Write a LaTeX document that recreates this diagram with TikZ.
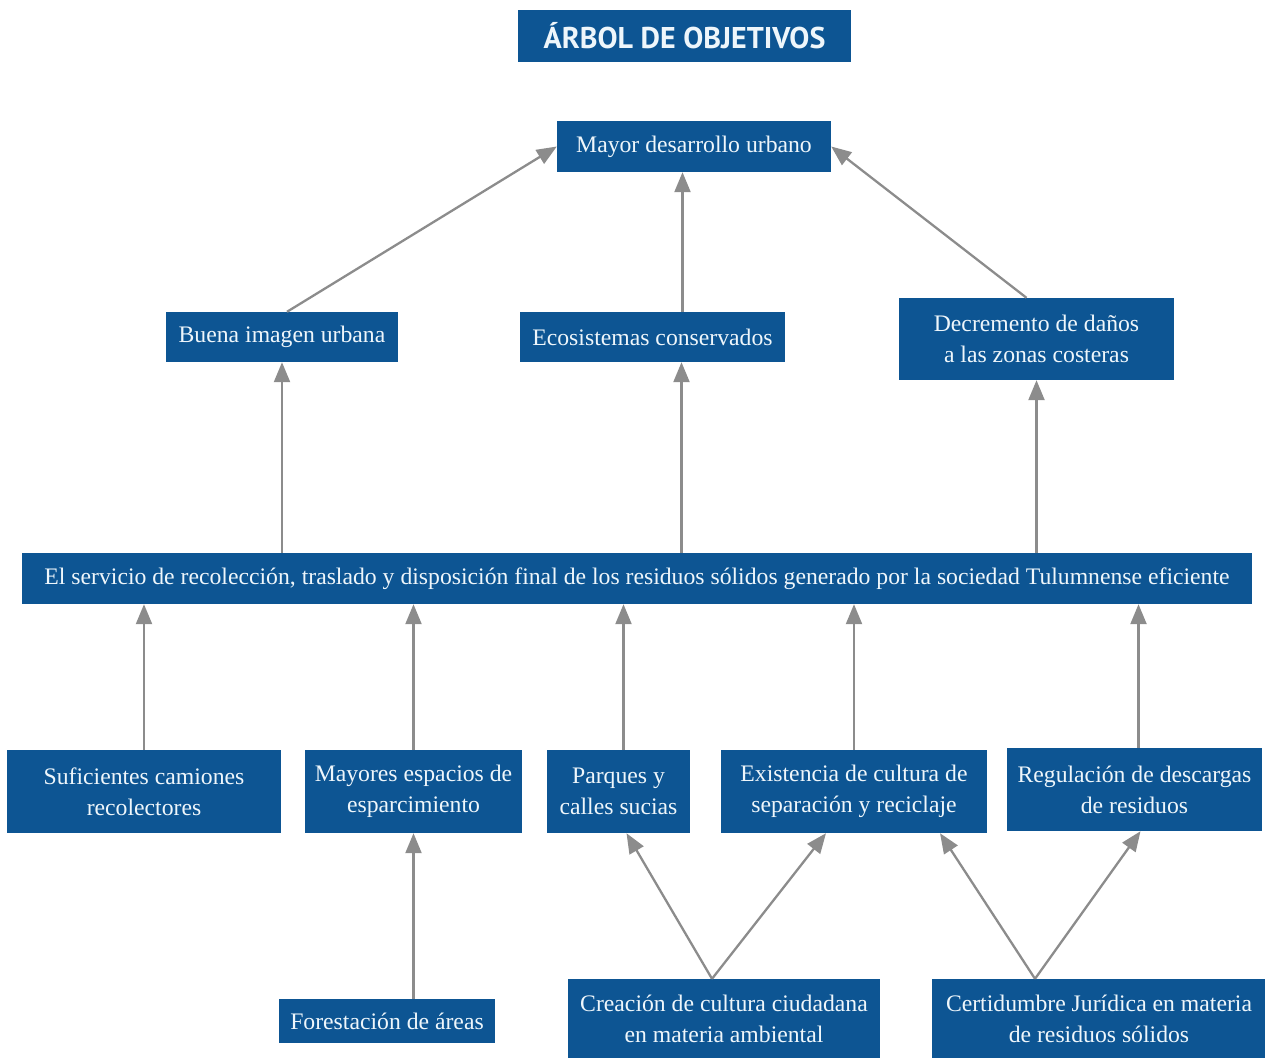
\documentclass[tikz,border=0pt]{standalone}
\usepackage{fontspec}
\setmainfont{Liberation Serif}
\newfontfamily\headfont{PT Sans}
\usetikzlibrary{arrows.meta}
\definecolor{boxblue}{HTML}{0D5593}
\definecolor{boxtext}{HTML}{EEF6FB}
\definecolor{arrowgray}{HTML}{8C8C8C}
\begin{document}
\begin{tikzpicture}[x=1pt,y=-1pt,
  box/.style={fill=boxblue,text=boxtext,inner sep=0pt,align=center,
    font=\fontsize{23.7}{31}\selectfont},
  link/.style={draw=arrowgray,line width=2.3pt,
    -{Triangle[length=20pt,width=16pt]}}]
\useasboundingbox (0,0) rectangle (1265,1057);

% title
\node[box,minimum width=333,minimum height=52,font=\headfont\bfseries\fontsize{30}{36}\selectfont]
  (title) at (684.5,36) {ÁRBOL DE OBJETIVOS};

% top goal
\node[box,minimum width=274,minimum height=51] (mayor) at (694,146.5) {Mayor desarrollo urbano};

% effects
\node[box,minimum width=232,minimum height=50] (buena) at (282,337) {Buena imagen urbana};
\node[box,minimum width=265,minimum height=50] (eco) at (652.5,337) {Ecosistemas conservados};
\node[box,minimum width=275,minimum height=82] (dec) at (1036.5,339) {Decremento de daños\\a las zonas costeras};

% central objective
\node[box,minimum width=1230,minimum height=51] (serv) at (637,578.5)
  {El servicio de recolección, traslado y disposición final de los residuos sólidos generado por la sociedad Tulumnense eficiente};

% means
\node[box,minimum width=274,minimum height=83] (suf) at (144,791.5) {Suficientes camiones\\recolectores};
\node[box,minimum width=217,minimum height=83] (esp) at (413.5,791.5) {Mayores espacios de\\esparcimiento};
\node[box,minimum width=143,minimum height=83] (parq) at (618.5,791.5) {Parques y\\calles sucias};
\node[box,minimum width=266,minimum height=83] (exist) at (854,791.5) {Existencia de cultura de\\separación y reciclaje};
\node[box,minimum width=255,minimum height=83] (regul) at (1134.5,789.5) {Regulación de descargas\\de residuos};

% root means
\node[box,minimum width=216,minimum height=44] (forest) at (387,1021) {Forestación de áreas};
\node[box,minimum width=312,minimum height=80] (crea) at (724,1019) {Creación de cultura ciudadana\\en materia ambiental};
\node[box,minimum width=334,minimum height=80] (cert) at (1099,1019) {Certidumbre Jurídica en materia\\de residuos sólidos};

% effects to top goal
\draw[link] ([xshift=5pt]buena.north) -- (mayor.west);
\draw[link] ([xshift=30pt]eco.north) -- ([xshift=30pt]eco.north |- mayor.south);
\draw[link] ([xshift=-10pt]dec.north) -- (mayor.east);

% central objective to effects
\draw[link] (serv.north -| buena.south) -- (buena.south);
\draw[link] ([xshift=29pt]eco.south |- serv.north) -- ([xshift=29pt]eco.south);
\draw[link] (serv.north -| dec.south) -- (dec.south);

% means to central objective
\draw[link] (suf.north) -- (suf.north |- serv.south);
\draw[link] (esp.north) -- (esp.north |- serv.south);
\draw[link] ([xshift=5pt]parq.north) -- ([xshift=5pt]parq.north |- serv.south);
\draw[link] (exist.north) -- (exist.north |- serv.south);
\draw[link] ([xshift=4pt]regul.north) -- ([xshift=4pt]regul.north |- serv.south);

% root means to means
\draw[link] (forest.north -| esp.south) -- (esp.south);
\draw[link] ([xshift=-12pt]crea.north) -- ([xshift=8pt]parq.south);
\draw[link] ([xshift=-12pt]crea.north) -- ([xshift=-28pt]exist.south);
\draw[link] ([xshift=-64pt]cert.north) -- ([xshift=86pt]exist.south);
\draw[link] ([xshift=-64pt]cert.north) -- ([xshift=6pt]regul.south);
\end{tikzpicture}
\end{document}
